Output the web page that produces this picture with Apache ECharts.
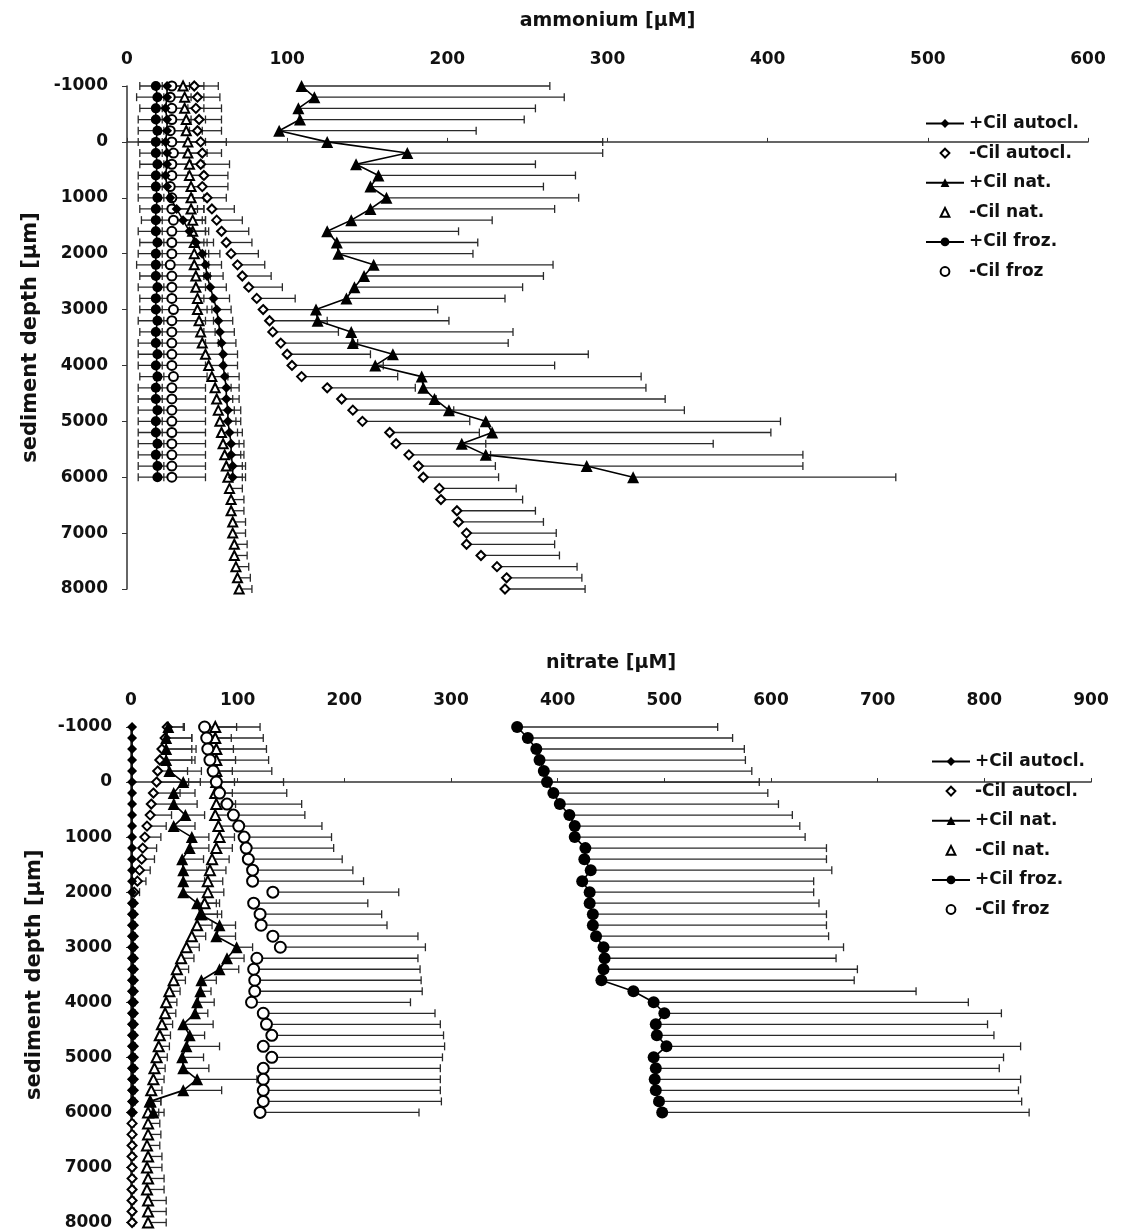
<!DOCTYPE html>
<html>
<head>
<meta charset="utf-8">
<script src="https://cdn.jsdelivr.net/npm/echarts@6/dist/echarts.min.js"></script>
<style>
  html, body { margin: 0; padding: 0; background: #fff; }
  #chart { width: 1121px; height: 1231px; }
</style>
</head>
<body>
<div id="chart"></div>
<script>
// depth rows (µm)
const depthsTo6000 = [-1000, -800, -600, -400, -200, 0, 200, 400, 600, 800, 1000, 1200, 1400, 1600, 1800, 2000, 2200, 2400, 2600, 2800, 3000, 3200, 3400, 3600, 3800, 4000, 4200, 4400, 4600, 4800, 5000, 5200, 5400, 5600, 5800, 6000];
const depthsTo8000 = [-1000, -800, -600, -400, -200, 0, 200, 400, 600, 800, 1000, 1200, 1400, 1600, 1800, 2000, 2200, 2400, 2600, 2800, 3000, 3200, 3400, 3600, 3800, 4000, 4200, 4400, 4600, 4800, 5000, 5200, 5400, 5600, 5800, 6000, 6200, 6400, 6600, 6800, 7000, 7200, 7400, 7600, 7800, 8000];

const seriesNames = ['+Cil autocl.', '-Cil autocl.', '+Cil nat.', '-Cil nat.', '+Cil froz.', '-Cil froz'];
const depthTicks = [-1000, 0, 1000, 2000, 3000, 4000, 5000, 6000, 7000, 8000];

// ammonium [µM]
const nh4PlusAutocl = [25, 25, 24, 25, 25, 24, 25, 25, 24, 25, 27, 31, 35, 39, 43, 47, 49, 50, 52, 54, 56, 57, 58, 59, 60, 60, 61, 62, 62, 63, 63, 64, 65, 65, 66, 66];
const nh4PlusAutoclErr = [14, 15, 14, 15, 14, 15, 14, 15, 14, 15, 14, 13, 12, 12, 11, 11, 10, 10, 10, 10, 9, 9, 9, 9, 9, 9, 9, 8, 8, 8, 8, 8, 8, 8, 8, 8];
const nh4MinusAutocl = [42, 44, 43, 45, 44, 46, 47, 46, 48, 47, 50, 53, 56, 59, 62, 65, 69, 72, 76, 81, 85, 89, 91, 96, 100, 103, 109, 125, 134, 141, 147, 164, 168, 176, 182, 185, 195, 196, 206, 207, 212, 212, 221, 231, 237, 236];
const nh4MinusAutoclErr = [15, 14, 16, 14, 15, 16, 12, 18, 15, 16, 12, 14, 16, 17, 16, 17, 17, 18, 21, 24, 33, 36, 41, 48, 52, 57, 60, 55, 59, 63, 67, 56, 56, 51, 48, 47, 48, 51, 49, 53, 56, 55, 49, 50, 47, 50];
const nh4PlusNat = [109, 117, 107, 108, 95, 125, 175, 143, 157, 152, 162, 152, 140, 125, 131, 132, 154, 148, 142, 137, 118, 119, 140, 141, 166, 155, 184, 185, 192, 201, 224, 228, 209, 224, 287, 316];
const nh4PlusNatErr = [155, 156, 148, 140, 123, 172, 122, 112, 123, 108, 120, 115, 88, 82, 88, 84, 112, 112, 105, 99, 76, 82, 101, 97, 122, 112, 137, 139, 144, 147, 184, 174, 157, 198, 135, 164];
const nh4MinusNat = [35, 36, 36, 37, 37, 38, 38, 39, 39, 40, 40, 40, 41, 41, 42, 42, 42, 43, 43, 44, 44, 45, 46, 47, 49, 51, 53, 55, 56, 57, 58, 59, 60, 61, 62, 63, 64, 65, 65, 66, 66, 67, 67, 68, 69, 70];
const nh4MinusNatErr = [8, 8, 8, 8, 8, 8, 8, 8, 8, 8, 8, 8, 8, 8, 8, 9, 9, 9, 9, 9, 9, 9, 9, 10, 10, 10, 10, 10, 10, 10, 10, 10, 10, 10, 10, 9, 8, 8, 8, 8, 8, 8, 8, 8, 8, 8];
const nh4PlusFroz = [18, 19, 18, 18, 19, 18, 18, 19, 18, 18, 19, 18, 18, 18, 19, 18, 18, 18, 19, 18, 18, 19, 18, 18, 19, 18, 19, 18, 18, 19, 18, 18, 19, 18, 19, 19];
const nh4PlusFrozErr = [4, 4, 4, 4, 4, 4, 4, 4, 4, 4, 4, 4, 4, 4, 4, 4, 4, 4, 4, 4, 4, 4, 4, 4, 4, 4, 4, 4, 4, 4, 4, 4, 4, 4, 4, 4];
const nh4MinusFroz = [28, 27, 28, 28, 27, 28, 29, 28, 28, 27, 28, 28, 29, 28, 28, 28, 27, 28, 28, 28, 29, 28, 28, 28, 28, 28, 29, 28, 28, 28, 28, 28, 28, 28, 28, 28];
const nh4MinusFrozErr = [20, 21, 20, 21, 20, 21, 21, 20, 21, 20, 21, 20, 20, 21, 20, 21, 21, 20, 21, 20, 21, 21, 20, 21, 21, 21, 21, 21, 21, 21, 21, 21, 21, 21, 21, 21];

// nitrate [µM]
const no3PlusAutocl = [1, 1, 1, 1, 1, 1, 1, 1, 1, 1, 1, 1, 1, 1, 1, 1, 1, 1, 1, 1, 1, 1, 1, 1, 1, 1, 1, 1, 1, 1, 1, 1, 1, 1, 1, 1];
const no3MinusAutocl = [34, 32, 29, 27, 25, 24, 21, 19, 18, 15, 13, 11, 10, 8, 6, 3, 2, 2, 2, 2, 2, 2, 2, 2, 2, 2, 2, 2, 2, 2, 2, 2, 2, 2, 2, 1, 1, 1, 1, 1, 1, 1, 1, 1, 1, 1];
const no3MinusAutoclErr = [16, 25, 28, 30, 28, 30, 25, 22, 20, 18, 15, 13, 12, 10, 8, 5, 2, 2, 2, 2, 2, 2, 2, 2, 2, 2, 2, 2, 2, 2, 2, 2, 2, 2, 2, 2, 2, 2, 2, 2, 2, 2, 2, 2, 2, 2];
const no3PlusNat = [35, 33, 33, 33, 36, 49, 40, 40, 51, 40, 57, 55, 48, 49, 49, 49, 62, 65, 83, 80, 99, 90, 83, 66, 65, 62, 60, 49, 55, 52, 48, 49, 62, 49, 18, 21];
const no3PlusNatErr = [14, 24, 28, 27, 30, 16, 20, 22, 18, 20, 16, 18, 20, 22, 20, 22, 18, 20, 15, 18, 15, 16, 18, 14, 10, 16, 12, 28, 14, 31, 20, 24, 56, 36, 10, 10];
const no3MinusNat = [79, 79, 80, 80, 80, 80, 79, 80, 79, 82, 83, 80, 76, 74, 72, 72, 69, 66, 62, 57, 52, 47, 43, 40, 36, 33, 32, 29, 27, 26, 24, 22, 21, 19, 18, 16, 16, 16, 15, 16, 15, 16, 15, 16, 16, 16];
const no3MinusNatErr = [20, 15, 16, 18, 15, 17, 16, 18, 15, 16, 14, 15, 16, 15, 14, 15, 14, 15, 14, 13, 12, 12, 11, 11, 10, 10, 10, 10, 10, 10, 10, 10, 10, 10, 10, 10, 11, 12, 12, 13, 14, 15, 16, 17, 17, 17];
const no3PlusFroz = [362, 372, 380, 383, 387, 390, 396, 402, 411, 416, 416, 426, 425, 431, 423, 430, 430, 433, 433, 436, 443, 444, 443, 441, 471, 490, 500, 492, 493, 502, 490, 492, 491, 492, 495, 498];
const no3PlusFrozErr = [188, 192, 195, 193, 195, 199, 201, 205, 209, 211, 216, 226, 227, 226, 217, 210, 215, 219, 219, 218, 225, 217, 238, 237, 265, 295, 316, 311, 316, 332, 328, 322, 343, 340, 340, 344];
const no3MinusFroz = [69, 71, 72, 74, 77, 80, 83, 90, 96, 101, 106, 108, 110, 114, 114, 133, 115, 121, 122, 133, 140, 118, 115, 116, 116, 113, 124, 127, 132, 124, 132, 124, 124, 124, 124, 121];
const no3MinusFrozErr = [52, 53, 55, 55, 55, 63, 63, 70, 67, 78, 82, 82, 88, 94, 104, 118, 107, 114, 118, 136, 136, 151, 156, 156, 157, 149, 161, 163, 161, 170, 160, 166, 166, 166, 167, 149];

const FONT = 'DejaVu Sans';
const INK = '#111';

function toPoints(values, depths) {
  return values.map((v, i) => [v, depths[i]]);
}

function errorSeries(panel, values, errs, depths, both) {
  return {
    type: 'custom',
    xAxisIndex: panel,
    yAxisIndex: panel,
    silent: true,
    z: 1,
    data: values.map((v, i) => [both ? v - errs[i] : v, v + errs[i], depths[i]]),
    encode: { x: [0, 1], y: 2 },
    renderItem: (params, api) => {
      const d = api.value(2);
      const a = api.coord([api.value(0), d]);
      const b = api.coord([api.value(1), d]);
      const style = { stroke: '#2a2a2a', lineWidth: 1.3 };
      const children = [
        { type: 'line', shape: { x1: a[0], y1: a[1], x2: b[0], y2: b[1] }, style },
        { type: 'line', shape: { x1: b[0], y1: b[1] - 4, x2: b[0], y2: b[1] + 4 }, style },
      ];
      if (both) {
        children.push({ type: 'line', shape: { x1: a[0], y1: a[1] - 4, x2: a[0], y2: a[1] + 4 }, style });
      }
      return { type: 'group', children };
    },
  };
}

// +Cil series: filled marker joined by a line
function filledSeries(panel, name, symbol, size, values, depths) {
  return {
    name,
    type: 'line',
    xAxisIndex: panel,
    yAxisIndex: panel,
    data: toPoints(values, depths),
    symbol,
    symbolSize: size,
    showAllSymbol: true,
    itemStyle: { color: '#000' },
    lineStyle: { color: '#000', width: 1.6 },
    z: 4,
  };
}

// -Cil series: open marker only
function openSeries(panel, name, symbol, size, values, depths) {
  return {
    name,
    type: 'line',
    xAxisIndex: panel,
    yAxisIndex: panel,
    data: toPoints(values, depths),
    symbol,
    symbolSize: size,
    showAllSymbol: true,
    itemStyle: { color: '#000', borderWidth: 1.2 },
    lineStyle: { width: 0, opacity: 0 },
    z: 3,
  };
}

function xAxisFor(panel, name, max, gap) {
  return {
    type: 'value',
    gridIndex: panel,
    position: 'top',
    min: 0,
    max,
    interval: 100,
    name,
    nameLocation: 'middle',
    nameGap: gap,
    nameTextStyle: { fontFamily: FONT, fontWeight: 'bold', fontSize: 19, color: INK },
    axisLine: { show: true, lineStyle: { color: '#333', width: 1.5 } },
    axisTick: { show: true, length: 4, lineStyle: { color: '#333' } },
    splitLine: { show: false },
    axisLabel: { margin: 18, fontFamily: FONT, fontWeight: 'bold', fontSize: 17, color: INK },
  };
}

function yAxisFor(panel) {
  return {
    type: 'value',
    gridIndex: panel,
    inverse: true,
    min: -1000,
    max: 8000,
    interval: 1000,
    name: 'sediment depth [µm]',
    nameLocation: 'middle',
    nameRotate: 90,
    nameGap: 86,
    nameTextStyle: { fontFamily: FONT, fontWeight: 'bold', fontSize: 21, color: INK },
    axisLine: { show: true, lineStyle: { color: '#333', width: 1.5 } },
    axisTick: { show: true, length: 5, lineStyle: { color: '#333' } },
    splitLine: { show: false },
    axisLabel: {
      margin: 19,
      fontFamily: FONT,
      fontWeight: 'bold',
      fontSize: 17,
      color: INK,
      formatter: (v) => (depthTicks.includes(v) ? String(v) : ''),
    },
  };
}

function legendAt(left, top) {
  return {
    data: seriesNames,
    orient: 'vertical',
    left,
    top,
    itemWidth: 38,
    itemHeight: 11,
    itemGap: 12.6,
    selectedMode: false,
    textStyle: { fontFamily: FONT, fontWeight: 'bold', fontSize: 17, color: INK },
  };
}

const chart = echarts.init(document.getElementById('chart'), null, { renderer: 'canvas' });

chart.setOption({
  backgroundColor: '#fff',
  animation: false,
  grid: [
    { left: 127, right: 33, top: 86, height: 503 },
    { left: 131, right: 30, top: 727, height: 497 },
  ],
  xAxis: [xAxisFor(0, 'ammonium [µM]', 600, 55), xAxisFor(1, 'nitrate [µM]', 900, 54)],
  yAxis: [yAxisFor(0), yAxisFor(1)],
  legend: [legendAt(920, 110), legendAt(926, 748)],
  series: [
    // ammonium
    errorSeries(0, nh4MinusFroz, nh4MinusFrozErr, depthsTo6000, true),
    errorSeries(0, nh4PlusFroz, nh4PlusFrozErr, depthsTo6000, false),
    errorSeries(0, nh4MinusNat, nh4MinusNatErr, depthsTo8000, false),
    errorSeries(0, nh4PlusAutocl, nh4PlusAutoclErr, depthsTo6000, false),
    errorSeries(0, nh4MinusAutocl, nh4MinusAutoclErr, depthsTo8000, false),
    errorSeries(0, nh4PlusNat, nh4PlusNatErr, depthsTo6000, false),
    openSeries(0, '-Cil froz', 'emptyCircle', 9, nh4MinusFroz, depthsTo6000),
    openSeries(0, '-Cil nat.', 'emptyTriangle', 9, nh4MinusNat, depthsTo8000),
    openSeries(0, '-Cil autocl.', 'emptyDiamond', 9, nh4MinusAutocl, depthsTo8000),
    filledSeries(0, '+Cil froz.', 'circle', 10, nh4PlusFroz, depthsTo6000),
    filledSeries(0, '+Cil autocl.', 'diamond', 10, nh4PlusAutocl, depthsTo6000),
    filledSeries(0, '+Cil nat.', 'triangle', 12, nh4PlusNat, depthsTo6000),
    // nitrate
    errorSeries(1, no3MinusAutocl, no3MinusAutoclErr, depthsTo8000, false),
    errorSeries(1, no3MinusNat, no3MinusNatErr, depthsTo8000, false),
    errorSeries(1, no3PlusNat, no3PlusNatErr, depthsTo6000, false),
    errorSeries(1, no3MinusFroz, no3MinusFrozErr, depthsTo6000, false),
    errorSeries(1, no3PlusFroz, no3PlusFrozErr, depthsTo6000, false),
    openSeries(1, '-Cil autocl.', 'emptyDiamond', 9, no3MinusAutocl, depthsTo8000),
    openSeries(1, '-Cil nat.', 'emptyTriangle', 10, no3MinusNat, depthsTo8000),
    openSeries(1, '-Cil froz', 'emptyCircle', 11, no3MinusFroz, depthsTo6000),
    filledSeries(1, '+Cil autocl.', 'diamond', 10, no3PlusAutocl, depthsTo6000),
    filledSeries(1, '+Cil nat.', 'triangle', 12, no3PlusNat, depthsTo6000),
    filledSeries(1, '+Cil froz.', 'circle', 12, no3PlusFroz, depthsTo6000),
  ],
});
</script>
</body>
</html>
